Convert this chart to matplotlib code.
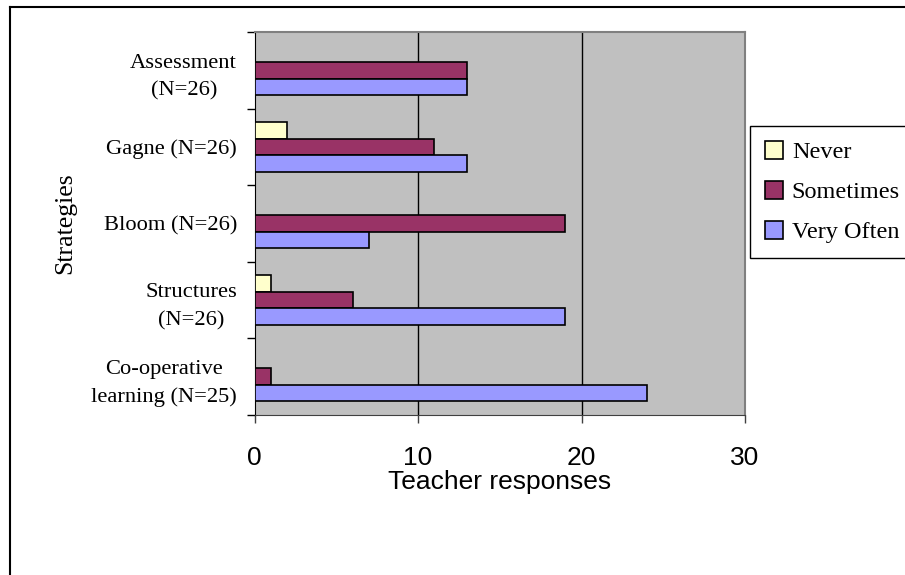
import matplotlib
matplotlib.use("Agg")
import matplotlib.pyplot as plt
import numpy as np
from matplotlib.lines import Line2D

# survey counts per teaching strategy
strategies = [
    "Assessment\n(N=26)",
    "Gagne (N=26)",
    "Bloom (N=26)",
    "Structures\n(N=26)",
    "Co-operative\nlearning (N=25)",
]
never = [0, 2, 0, 1, 0]
sometimes = [13, 11, 19, 6, 1]
very_often = [13, 13, 7, 19, 24]

series_names = ["Never", "Sometimes", "Very Often"]
series_colors = ["#ffffcc", "#993366", "#9999ff"]
x_ticks = [0, 10, 20, 30]

SERIF = ["Liberation Serif", "DejaVu Serif"]
SANS = ["Liberation Sans", "DejaVu Sans"]

fig = plt.figure(figsize=(9.05, 5.75), dpi=100)
ax = fig.add_axes([254.5 / 905, 1 - 415 / 575, (745 - 254.5) / 905, (415 - 32) / 575])
ax.set_facecolor("#c0c0c0")

pos = np.arange(len(strategies))
bar_h = 0.215
for k, (vals, name, color) in enumerate(zip([never, sometimes, very_often], series_names, series_colors)):
    ax.barh(pos + (k - 1) * bar_h, vals, height=bar_h, color=color, edgecolor="black",
            linewidth=1.2, label=name, zorder=3)

ax.set_xlim(0, 30)
ax.set_ylim(len(strategies) - 0.5, -0.5)

# vertical gridlines
ax.set_xticks(x_ticks)
ax.set_xticklabels([str(t) for t in x_ticks], fontfamily=SANS, fontsize=19)
for t in x_ticks[1:-1]:
    ax.axvline(t, color="black", linewidth=1.0, zorder=1)
ax.tick_params(axis="x", direction="out", length=6, width=1, pad=16, color="#404040")

# category separators as major ticks, names as minor ticks
ax.set_yticks(np.arange(len(strategies) + 1) - 0.5)
ax.set_yticklabels([])
ax.set_yticks(pos, minor=True)
ax.set_yticklabels(strategies, minor=True, fontfamily=SERIF, fontsize=16.2,
                   multialignment="center", linespacing=1.6)
ax.tick_params(axis="y", which="major", direction="out", length=6, width=1)
ax.tick_params(axis="y", which="minor", length=0, pad=12.5)

ax.set_xlabel("Teacher responses", fontfamily=SANS, fontsize=19, labelpad=0)
ax.set_ylabel("Strategies", fontfamily=SERIF, fontsize=18.5, labelpad=11)

ax.spines["left"].set_color("black")
ax.spines["bottom"].set_color("#404040")
for side in ("top", "right"):
    ax.spines[side].set_color("#808080")
    ax.spines[side].set_linewidth(1.5)

leg = fig.legend(loc="upper left", bbox_to_anchor=(750 / 905, 1 - 126 / 575),
                 bbox_transform=fig.transFigure, borderaxespad=0,
                 prop={"family": SERIF, "size": 17.5}, handlelength=0.75, handleheight=0.75,
                 handletextpad=0.35, labelspacing=0.72, borderpad=0.62,
                 fancybox=False, frameon=True, edgecolor="black", framealpha=1)
leg.get_frame().set_linewidth(1.0)

# outer chart border
fig.add_artist(Line2D([10 / 905, 10 / 905], [0, 1 - 7 / 575], transform=fig.transFigure,
                      color="black", linewidth=1.5))
fig.add_artist(Line2D([10 / 905, 1], [1 - 7 / 575, 1 - 7 / 575], transform=fig.transFigure,
                      color="black", linewidth=1.5))

fig.savefig("out.png", dpi=100)
